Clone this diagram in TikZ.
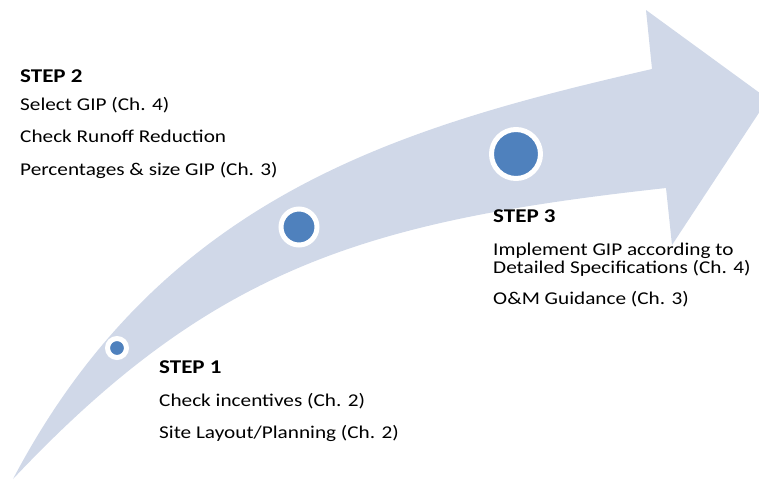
\documentclass[tikz,border=0pt]{standalone}
\usepackage{fontspec}
\setmainfont{Carlito}[FakeStretch=1.18]
\definecolor{band}{HTML}{D0D8E8}
\definecolor{dot}{HTML}{4F81BD}
\begin{document}
\begin{tikzpicture}[x=1pt,y=-1pt,
  dotring/.style={circle, fill=dot, draw=white, inner sep=0pt},
  steptitle/.style={anchor=base west, inner sep=0pt, font=\fontsize{19.5}{22}\selectfont\bfseries},
  stepbody/.style={anchor=base west, inner sep=0pt, font=\fontsize{18}{21}\selectfont}]
\useasboundingbox (0,0) rectangle (759,479);
\clip (0,0) rectangle (759,479);
% curved arrow
\fill[band] (13,479) .. controls (163,194) and (402,126.5) .. (652,69)
  -- (646,10) -- (768,99) -- (672,245) -- (666,188)
  .. controls (366,221) and (213,267) .. (13,479) -- cycle;
% dots
\node[dotring, minimum size=19pt, line width=5pt] (d1) at (117,348) {};
\node[dotring, minimum size=36pt, line width=5pt] (d2) at (299,227) {};
\node[dotring, minimum size=49pt, line width=5pt] (d3) at (516,154) {};
% step 2
\node[steptitle] (s2) at (20,82) {STEP 2};
\node[stepbody] (s2a) at (20,110) {Select GIP (Ch. 4)};
\node[stepbody] (s2b) at (20,142) {Check Runoff Reduction};
\node[stepbody] (s2c) at (20,175) {Percentages \& size GIP (Ch. 3)};
% step 1
\node[steptitle] (s1) at (159,373) {STEP 1};
\node[stepbody] (s1a) at (159,406) {Check incentives (Ch. 2)};
\node[stepbody] (s1b) at (159,438) {Site Layout/Planning (Ch. 2)};
% step 3
\node[steptitle] (s3) at (493,222) {STEP 3};
\node[stepbody] (s3a) at (493,255) {Implement GIP according to};
\node[stepbody] (s3b) at (493,273) {Detailed Specifications (Ch. 4)};
\node[stepbody] (s3c) at (493,304) {O\&M Guidance (Ch. 3)};
\end{tikzpicture}
\end{document}
